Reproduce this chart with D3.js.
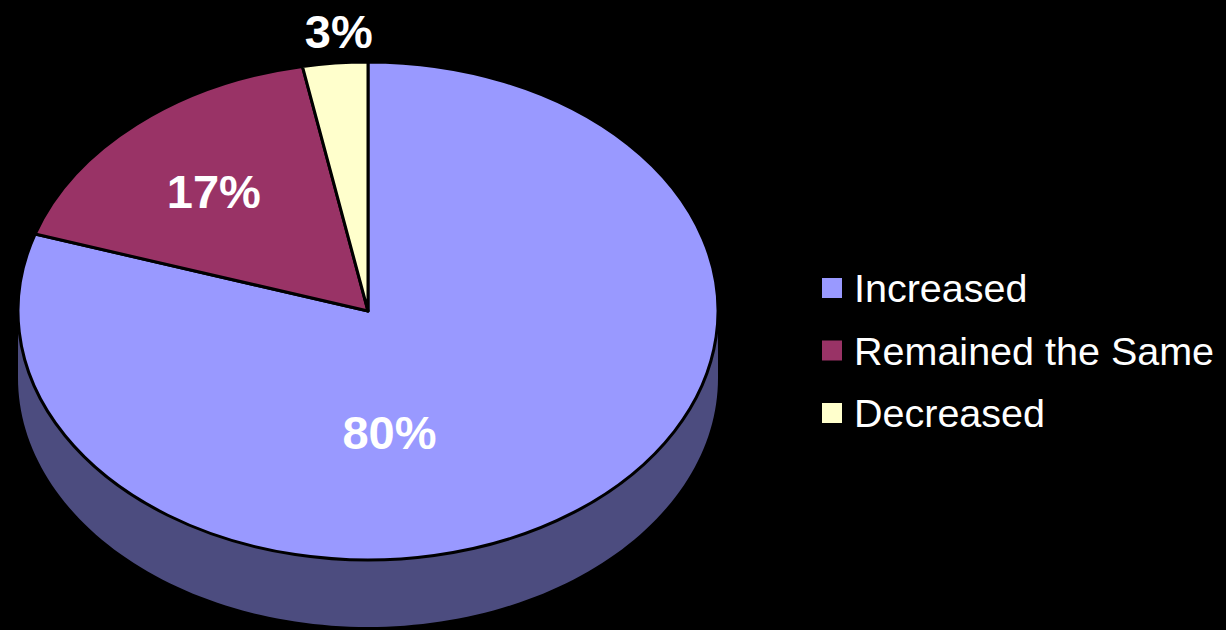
<!DOCTYPE html>
<html>
<head>
<meta charset="utf-8">
<script src="https://cdn.jsdelivr.net/npm/d3@7"></script>
<style>
  html, body { margin: 0; padding: 0; background: #000; }
  svg { display: block; }
  text { font-family: Arial, "Liberation Sans", sans-serif; }
</style>
</head>
<body>
<script>
// chart data
const categories = ['Increased', 'Remained the Same', 'Decreased'];
const values = [80, 17, 3];
const labels = ['80%', '17%', '3%'];
const colors = ['#9999FF', '#993366', '#FFFFCC'];
const sideColors = ['#4C4C7F', '#4C1933', '#7F7F66'];

const W = 1226, H = 630;
// pie geometry (tilted ellipse)
const cx = 368, cy = 311, rx = 350, ry = 249, depth = 67;

const svg = d3.select('body').append('svg')
  .attr('width', W)
  .attr('height', H);

const pie = d3.pie().sort(null).value(d => d.value);
const arcs = pie(categories.map((c, i) => ({ name: c, value: values[i], i: i })));

// ellipse point for d3 angle (0 = 12 o'clock, clockwise)
function pt(a, f, dy) {
  return [cx + f * rx * Math.sin(a), cy - f * ry * Math.cos(a) + (dy || 0)];
}

// side walls, only the front half (pi/2 .. 3pi/2) is visible
const sideG = svg.append('g');
arcs.forEach(d => {
  const a0 = Math.max(d.startAngle, Math.PI / 2);
  const a1 = Math.min(d.endAngle, 3 * Math.PI / 2);
  if (a1 <= a0) return;
  const n = 120;
  const angles = d3.range(n + 1).map(k => a0 + (a1 - a0) * k / n);
  const top = angles.map(a => pt(a, 1, 0));
  const bottom = angles.slice().reverse().map(a => pt(a, 1, depth));
  sideG.append('path')
    .attr('d', d3.line()(top.concat(bottom)) + 'Z')
    .attr('fill', sideColors[d.data.i]);
});

// top face
const arc = d3.arc().innerRadius(0).outerRadius(rx);
const topG = svg.append('g')
  .attr('transform', `translate(${cx},${cy}) scale(1,${ry / rx})`);
topG.selectAll('path')
  .data(arcs)
  .join('path')
  .attr('d', arc)
  .attr('fill', d => colors[d.data.i])
  .attr('stroke', '#000')
  .attr('stroke-width', 3)
  .attr('stroke-linejoin', 'round')
  .attr('vector-effect', 'non-scaling-stroke');

// data labels placed along slice mid angle
const labelPlace = [
  { f: 0.6, dx: -102 },
  { f: 0.64, dx: -6 },
  { f: 1.13, dx: 8 }
];
svg.append('g').selectAll('text')
  .data(arcs)
  .join('text')
  .attr('x', d => pt((d.startAngle + d.endAngle) / 2, labelPlace[d.data.i].f)[0] + labelPlace[d.data.i].dx)
  .attr('y', d => pt((d.startAngle + d.endAngle) / 2, labelPlace[d.data.i].f)[1])
  .attr('dy', '0.36em')
  .attr('text-anchor', 'middle')
  .attr('fill', '#fff')
  .attr('font-weight', 'bold')
  .attr('font-size', 47)
  .text(d => labels[d.data.i]);

// legend
const ly = d3.scalePoint().domain(categories).range([288, 413]);
const leg = svg.append('g').selectAll('g')
  .data(categories)
  .join('g')
  .attr('transform', d => `translate(822,${ly(d)})`);
leg.append('rect')
  .attr('x', 0).attr('y', -10)
  .attr('width', 20).attr('height', 20)
  .attr('fill', (d, i) => colors[i]);
leg.append('text')
  .attr('x', 32)
  .attr('y', 14)
  .attr('fill', '#fff')
  .attr('font-size', 39.5)
  .text(d => d);
</script>
</body>
</html>
